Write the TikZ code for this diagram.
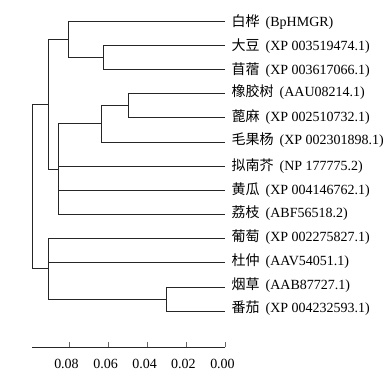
\documentclass[tikz,border=0pt]{standalone}
\usepackage{fontspec}
\setmainfont{Liberation Serif}
\newfontfamily\cjk{Noto Sans CJK SC}
\begin{document}
\begin{tikzpicture}[x=1pt,y=-1pt,
  br/.style={draw=black!85, line width=0.8pt},
  lab/.style={anchor=west, inner sep=0pt, font=\fontsize{14}{16}\selectfont},
  ticklab/.style={anchor=center, inner sep=0pt, font=\fontsize{14}{16}\selectfont}]
\useasboundingbox (0,0) rectangle (392,381);
% leaf tips
\coordinate (L1) at (225,21);
\coordinate (L2) at (225,45.2);
\coordinate (L3) at (225,69.3);
\coordinate (L4) at (225,93.5);
\coordinate (L5) at (225,117.7);
\coordinate (L6) at (225,141.9);
\coordinate (L7) at (225,166);
\coordinate (L8) at (225,190.2);
\coordinate (L9) at (225,214.4);
\coordinate (L10) at (225,238.5);
\coordinate (L11) at (225,262.7);
\coordinate (L12) at (225,286.9);
\coordinate (L13) at (225,311);
% internal nodes
\coordinate (B) at (103,57.25);
\coordinate (A) at (68,39.1);
\coordinate (F) at (128,105.6);
\coordinate (E) at (101.7,123.75);
\coordinate (D) at (58.7,169.1);
\coordinate (C) at (48.7,104.1);
\coordinate (H) at (166,298.95);
\coordinate (G) at (48.3,268.7);
\coordinate (R) at (32.3,186.4);
% branches
\draw[br] (R) |- (C);
\draw[br] (R) |- (G);
\draw[br] (C) |- (A);
\draw[br] (C) |- (D);
\draw[br] (A) |- (L1);
\draw[br] (A) |- (B);
\draw[br] (B) |- (L2);
\draw[br] (B) |- (L3);
\draw[br] (D) |- (E);
\draw[br] (D) |- (L7);
\draw[br] (D) |- (L8);
\draw[br] (D) |- (L9);
\draw[br] (E) |- (F);
\draw[br] (E) |- (L6);
\draw[br] (F) |- (L4);
\draw[br] (F) |- (L5);
\draw[br] (G) |- (L10);
\draw[br] (G) |- (L11);
\draw[br] (G) |- (H);
\draw[br] (H) |- (L12);
\draw[br] (H) |- (L13);
% labels
\node[lab] (t1) at (231.5,22) {{\cjk 白桦}\hspace{6pt}(BpHMGR)};
\node[lab] (t2) at (231.5,46.2) {{\cjk 大豆}\hspace{6pt}(XP 003519474.1)};
\node[lab] (t3) at (231.5,70.3) {{\cjk 苜蓿}\hspace{6pt}(XP 003617066.1)};
\node[lab] (t4) at (231.5,92) {{\cjk 橡胶树}\hspace{6pt}(AAU08214.1)};
\node[lab] (t5) at (231.5,117.2) {{\cjk 蓖麻}\hspace{6pt}(XP 002510732.1)};
\node[lab] (t6) at (231.5,139.9) {{\cjk 毛果杨}\hspace{6pt}(XP 002301898.1)};
\node[lab] (t7) at (231.5,166) {{\cjk 拟南芥}\hspace{6pt}(NP 177775.2)};
\node[lab] (t8) at (231.5,190.2) {{\cjk 黄瓜}\hspace{6pt}(XP 004146762.1)};
\node[lab] (t9) at (231.5,213.4) {{\cjk 荔枝}\hspace{6pt}(ABF56518.2)};
\node[lab] (t10) at (231.5,237.5) {{\cjk 葡萄}\hspace{6pt}(XP 002275827.1)};
\node[lab] (t11) at (231.5,260.7) {{\cjk 杜仲}\hspace{6pt}(AAV54051.1)};
\node[lab] (t12) at (231.5,284.9) {{\cjk 烟草}\hspace{6pt}(AAB87727.1)};
\node[lab] (t13) at (231.5,308.5) {{\cjk 番茄}\hspace{6pt}(XP 004232593.1)};
% axis
\coordinate (ax0) at (32.3,347.3);
\coordinate (ax1) at (225,347.3);
\draw[br] (ax0) -- (ax1);
\foreach \x/\v [count=\i] in {69/0.08,108/0.06,147/0.04,186/0.02,225/0.00} {
  \coordinate (tk\i) at (\x,347.3);
  \coordinate (tt\i) at (\x,342.3);
  \draw[br, draw=black!60] (tk\i) -- (tt\i);
  \node[ticklab] (tl\i) at (\x-2.5,364) {\v};
}
\end{tikzpicture}
\end{document}
